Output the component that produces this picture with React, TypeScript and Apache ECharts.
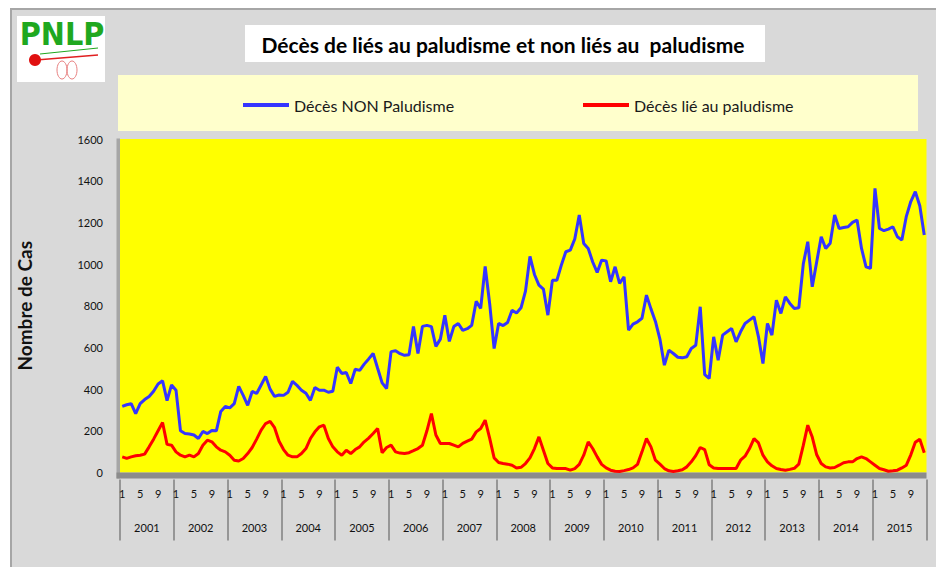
import React, { useEffect, useRef } from 'react';
import * as echarts from 'echarts';

const years = ['2001', '2002', '2003', '2004', '2005', '2006', '2007', '2008', '2009', '2010', '2011', '2012', '2013', '2014', '2015'];
const months = ['1', '2', '3', '4', '5', '6', '7', '8', '9', '10', '11', '12'];
const yTicks = [0, 200, 400, 600, 800, 1000, 1200, 1400, 1600];

// Décès NON Paludisme, one row per year (Jan..Dec)
const nonPaludisme: number[][] = [
  [317, 325, 330, 283, 330, 350, 365, 390, 425, 440, 345, 420],
  [395, 200, 187, 185, 180, 163, 197, 187, 202, 200, 293, 317],
  [310, 330, 413, 370, 322, 389, 379, 420, 461, 400, 365, 372],
  [370, 385, 437, 418, 395, 380, 346, 408, 395, 395, 385, 390],
  [505, 475, 480, 427, 495, 490, 520, 545, 571, 500, 430, 403],
  [580, 584, 570, 562, 565, 701, 571, 701, 706, 700, 605, 640],
  [754, 629, 700, 715, 682, 690, 706, 821, 787, 989, 811, 595],
  [715, 705, 720, 778, 765, 790, 870, 1037, 950, 899, 880, 755],
  [922, 922, 995, 1059, 1067, 1120, 1235, 1099, 1075, 1010, 960, 1019],
  [1015, 915, 987, 907, 939, 683, 712, 723, 740, 851, 785, 725],
  [640, 515, 587, 571, 553, 550, 555, 595, 610, 795, 470, 451],
  [651, 539, 659, 675, 691, 627, 675, 715, 731, 747, 651, 523],
  [715, 659, 827, 763, 843, 811, 787, 790, 1000, 1107, 891, 1011],
  [1131, 1075, 1100, 1235, 1171, 1175, 1179, 1200, 1211, 1075, 987, 979],
  [1363, 1171, 1160, 1168, 1179, 1131, 1115, 1229, 1300, 1347, 1280, 1139],
];

// Décès lié au paludisme, one row per year (Jan..Dec)
const paludisme: number[][] = [
  [75, 68, 75, 80, 83, 88, 123, 160, 200, 240, 135, 131],
  [99, 83, 75, 83, 75, 91, 131, 155, 147, 123, 107, 99],
  [83, 59, 55, 67, 91, 120, 160, 203, 235, 245, 215, 150],
  [110, 83, 75, 75, 91, 115, 163, 195, 219, 227, 163, 123],
  [99, 83, 107, 91, 110, 123, 147, 165, 187, 211, 95, 120],
  [131, 99, 93, 91, 95, 105, 115, 131, 200, 283, 180, 139],
  [139, 139, 131, 123, 140, 150, 160, 195, 211, 251, 165, 70],
  [48, 43, 40, 35, 22, 25, 43, 70, 115, 171, 107, 43],
  [22, 19, 19, 19, 11, 19, 39, 83, 147, 115, 75, 39],
  [22, 11, 6, 5, 9, 14, 22, 39, 99, 163, 123, 59],
  [40, 19, 8, 5, 8, 13, 27, 51, 81, 120, 110, 37],
  [22, 19, 19, 19, 19, 19, 59, 78, 115, 163, 142, 83],
  [51, 32, 19, 14, 11, 15, 20, 40, 130, 227, 170, 85],
  [43, 27, 22, 24, 35, 47, 51, 51, 67, 75, 67, 51],
  [35, 19, 13, 6, 8, 11, 22, 35, 85, 145, 160, 95],
];

const seriesNames = ['Décès NON Paludisme', 'Décès lié au paludisme'];
const titleText = 'Décès de liés au paludisme et non liés au  paludisme';

export default function App() {
  const ref = useRef<HTMLDivElement>(null);

  useEffect(() => {
    if (!ref.current) return;
    const chart = echarts.init(ref.current, undefined, { renderer: 'svg' });
    const categories: string[] = [];
    years.forEach((y) => months.forEach((m) => categories.push(y + '-' + m)));
    const blue = nonPaludisme.flat();
    const red = paludisme.flat();
    const font = 'Lato, "Liberation Sans", sans-serif';

    const legendText = { fontSize: 16, color: '#1a1a1a', fontFamily: font };

    chart.setOption({
      animation: false,
      backgroundColor: 'transparent',
      textStyle: { fontFamily: font },
      grid: {
        left: 120,
        right: 9.5,
        top: 139,
        bottom: 94.5,
        show: true,
        backgroundColor: '#ffff00',
        borderWidth: 0,
      },
      legend: [
        {
          data: [seriesNames[0]],
          left: 238,
          top: 92,
          icon: 'rect',
          itemWidth: 46,
          itemHeight: 4,
          itemGap: 6,
          textStyle: legendText,
        },
        {
          data: [seriesNames[1]],
          left: 578,
          top: 92,
          icon: 'rect',
          itemWidth: 46,
          itemHeight: 4,
          itemGap: 6,
          textStyle: legendText,
        },
      ],
      xAxis: [
        {
          type: 'category',
          data: categories,
          boundaryGap: true,
          axisLine: { show: false },
          axisTick: { show: false },
          splitLine: { show: false },
          axisLabel: {
            interval: 3,
            margin: 15,
            fontSize: 11,
            color: '#111',
            fontFamily: font,
            formatter: (v: string) => v.split('-')[1],
          },
        },
        {
          type: 'category',
          data: years,
          position: 'bottom',
          offset: 7,
          boundaryGap: true,
          axisLine: { show: false },
          axisTick: { show: true, interval: 0, length: 61, lineStyle: { color: '#7f7f7f', width: 1.5 } },
          splitLine: { show: false },
          axisLabel: { interval: 0, margin: 42, fontSize: 11, color: '#111', fontFamily: font },
        },
      ],
      yAxis: {
        type: 'value',
        min: yTicks[0],
        max: yTicks[yTicks.length - 1],
        interval: 200,
        axisLine: { show: false },
        axisTick: { show: false },
        splitLine: { show: false },
        axisLabel: {
          margin: 17,
          fontSize: 11,
          color: '#111',
          fontFamily: font,
          formatter: (v: number) => String(v),
        },
        name: 'Nombre de Cas',
        nameLocation: 'middle',
        nameRotate: 90,
        nameGap: 86,
        nameTextStyle: { fontSize: 19, fontWeight: 'bold', color: '#111', fontFamily: font },
      },
      graphic: [
        { type: 'rect', shape: { x: 17, y: 16, width: 88, height: 66 }, style: { fill: '#ffffff' } },
        {
          type: 'text',
          x: 62,
          y: 34,
          style: {
            text: 'PNLP',
            fill: '#1fa81f',
            font: 'bold 32px "Liberation Sans Narrow", "DejaVu Sans Condensed", sans-serif',
            align: 'center',
            verticalAlign: 'middle',
          },
        },
        { type: 'line', shape: { x1: 40, y1: 54, x2: 98, y2: 48 }, style: { stroke: '#1fa81f', lineWidth: 1 } },
        { type: 'line', shape: { x1: 36, y1: 60, x2: 98, y2: 55 }, style: { stroke: '#e02020', lineWidth: 1.5 } },
        { type: 'circle', shape: { cx: 35, cy: 60, r: 6 }, style: { fill: '#e01010' } },
        { type: 'ellipse', shape: { cx: 62, cy: 70, rx: 5, ry: 9 }, style: { fill: 'none', stroke: '#e88080', lineWidth: 1 } },
        { type: 'ellipse', shape: { cx: 72, cy: 70, rx: 5, ry: 9 }, style: { fill: 'none', stroke: '#e88080', lineWidth: 1 } },
        { type: 'rect', shape: { x: 245, y: 25, width: 520, height: 37 }, style: { fill: '#ffffff' } },
        {
          type: 'text',
          x: 503,
          y: 44,
          style: {
            text: titleText,
            fill: '#000',
            font: 'bold 21px Lato, "Liberation Sans", sans-serif',
            align: 'center',
            verticalAlign: 'middle',
          },
        },
        { type: 'rect', shape: { x: 118, y: 75, width: 800, height: 56 }, style: { fill: '#ffffcc' } },
        { type: 'rect', z: -1, shape: { x: 116.5, y: 138.5, width: 3.5, height: 340 }, style: { fill: '#a6a6a6' } },
        { type: 'rect', z: 1, shape: { x: 116.5, y: 472.5, width: 810, height: 6 }, style: { fill: '#8c8c8c' } },
      ],
      series: [
        {
          name: seriesNames[0],
          type: 'line',
          data: blue,
          symbol: 'none',
          lineStyle: { color: '#3535ff', width: 3 },
          itemStyle: { color: '#3535ff' },
          z: 3,
        },
        {
          name: seriesNames[1],
          type: 'line',
          data: red,
          symbol: 'none',
          lineStyle: { color: '#ff0000', width: 3 },
          itemStyle: { color: '#ff0000' },
          z: 3,
        },
      ],
    });
    return () => chart.dispose();
  }, []);

  return (
    <div style={{ position: 'absolute', left: 0, top: 0, width: 936, height: 567, background: '#ffffff', overflow: 'hidden' }}>
      <div
        style={{
          position: 'absolute',
          left: 10,
          top: 8,
          width: 930,
          height: 565,
          background: '#d9d9d9',
          borderTop: '2px solid #a6a6a6',
          borderLeft: '2px solid #a6a6a6',
        }}
      />
      <div ref={ref} style={{ position: 'absolute', left: 0, top: 0, width: 936, height: 567 }} />
    </div>
  );
}
